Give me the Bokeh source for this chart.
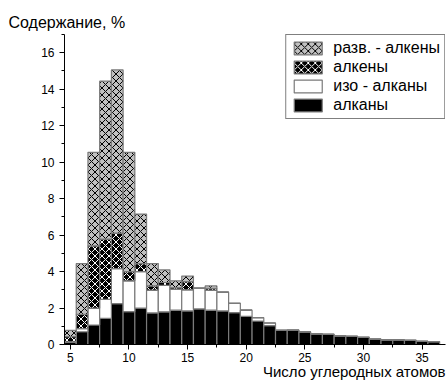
from bokeh.plotting import figure
from bokeh.models import Range1d, SingleIntervalTicker, Legend, LegendItem, ColumnDataSource, Title
from bokeh.embed import file_html
from bokeh.resources import INLINE

# ---- data ----
carbons = list(range(5, 37))
alkanes = [0.12, 0.70, 1.07, 1.44, 2.24, 1.80, 2.00, 1.73, 1.79, 1.88, 1.84, 1.95,
           1.88, 1.84, 1.75, 1.55, 1.29, 1.03, 0.78, 0.77, 0.69, 0.58, 0.56, 0.47,
           0.45, 0.39, 0.30, 0.25, 0.25, 0.23, 0.17, 0.16]
iso_alkanes = [0.03, 0.17, 0.92, 1.04, 1.92, 1.69, 2.00, 1.25, 1.46, 1.15, 1.16, 1.14,
               1.10, 1.03, 0.51, 0.33, 0.18, 0.15, 0.00, 0.02, 0.00, 0.00, 0.00, 0.00,
               0.00, 0.00, 0.00, 0.00, 0.00, 0.00, 0.00, 0.00]
alkenes = [0.28, 0.78, 3.42, 3.30, 1.95, 0.51, 0.44, 0.23, 0.15, 0.09, 0.45, 0.00,
           0.10, 0.00, 0.00, 0.00, 0.00, 0.00, 0.00, 0.00, 0.00, 0.00, 0.00, 0.00,
           0.00, 0.00, 0.00, 0.00, 0.00, 0.00, 0.00, 0.00]
branched_alkenes = [0.35, 2.78, 5.13, 8.66, 8.95, 6.54, 2.71, 1.23, 0.69, 0.37, 0.30, 0.00,
                    0.13, 0.00, 0.00, 0.00, 0.00, 0.00, 0.00, 0.00, 0.00, 0.00, 0.00, 0.00,
                    0.00, 0.00, 0.00, 0.00, 0.00, 0.00, 0.00, 0.00]
series_labels = ["алканы", "изо - алканы", "алкены", "разв. - алкены"]
y_title = "Содержание, %"
x_title = "Число углеродных атомов"

FONT = "Liberation Sans"

source = ColumnDataSource(dict(c=carbons, alk=alkanes, iso=iso_alkanes,
                               ene=alkenes, bene=branched_alkenes))

p = figure(width=446, height=380, output_backend="svg", toolbar_location=None,
           x_range=Range1d(4.5, 37), y_range=Range1d(0, 17),
           min_border_left=64, min_border_right=1, min_border_top=34, min_border_bottom=36)
p.outline_line_color = None
p.grid.visible = False
p.background_fill_color = "white"

rs = p.vbar_stack(["alk", "iso", "ene", "bene"], x="c", width=1.0, source=source,
                  fill_color=["black", "white", "black", "#c0c0c0"],
                  hatch_pattern=["blank", "blank", "diagonal_cross", "diagonal_cross"],
                  hatch_color=["black", "black", "white", "black"],
                  hatch_scale=7, hatch_weight=1,
                  line_color="#7a7a7a", line_width=1.2)

items = [LegendItem(label=series_labels[i], renderers=[rs[i]]) for i in (3, 2, 1, 0)]
legend = Legend(items=items, location="top_right", margin=0, padding=4, spacing=1,
                glyph_width=35, glyph_height=16, label_height=16, label_standoff=8,
                label_text_font=FONT, label_text_font_size="16px", label_text_color="black",
                border_line_color="black", border_line_width=1, background_fill_alpha=1)
p.add_layout(legend)

for ax in (p.xaxis[0], p.yaxis[0]):
    ax.axis_line_color = "black"
    ax.axis_line_width = 1
    ax.major_tick_in = 0
    ax.major_tick_out = 5
    ax.minor_tick_in = 0
    ax.minor_tick_out = 3
    ax.major_tick_line_color = "black"
    ax.minor_tick_line_color = "black"
    ax.major_label_text_font = FONT
    ax.major_label_text_font_size = "12px"
    ax.major_label_text_color = "black"
p.xaxis.major_label_standoff = 3

p.xaxis.ticker = SingleIntervalTicker(interval=5, num_minor_ticks=2)
p.yaxis.ticker = SingleIntervalTicker(interval=2, num_minor_ticks=2)

p.add_layout(Title(text=y_title, align="left", offset=-56, standoff=7,
                   text_font=FONT, text_font_size="16px", text_font_style="normal",
                   text_color="black"), "above")
p.add_layout(Title(text=x_title, align="right", offset=0, standoff=-7,
                   text_font=FONT, text_font_size="15px", text_font_style="normal",
                   text_color="black"), "below")

open("out.html", "w").write(file_html(p, INLINE))
